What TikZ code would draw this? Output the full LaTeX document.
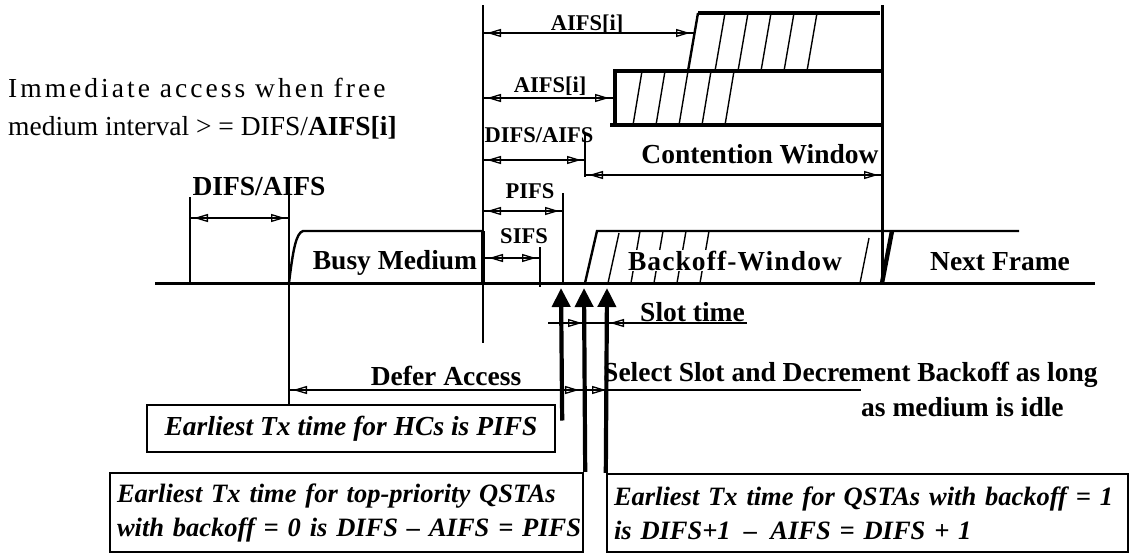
\documentclass[tikz,border=0pt]{standalone}
\usepackage{fontspec}
\setmainfont{Liberation Serif}
\usetikzlibrary{arrows.meta}
\newcommand{\biglbl}{\fontsize{27.5}{32}\selectfont\bfseries}
\newcommand{\smlbl}{\fontsize{22.5}{26}\selectfont\bfseries}
\newcommand{\boxtxt}{\fontsize{26.5}{34}\selectfont\bfseries\itshape}
\newcommand{\hctxt}{\fontsize{27.5}{34}\selectfont\bfseries\itshape}
\newcommand{\plaintxt}{\fontsize{27.5}{31}\selectfont}
\tikzset{
  dimtip/.tip={Triangle[open,length=14pt,width=8pt,line width=1.3pt]},
  thinln/.style={line width=1.4pt},
  medln/.style={line width=2.4pt},
  thickln/.style={line width=4.4pt},
  dimboth/.style={thinln,dimtip-dimtip,shorten <=4pt,shorten >=4pt},
  dimone/.style={thinln,-dimtip},
  uparr/.style={line width=4.2pt,-{Triangle[length=19pt,width=18pt]}},
  biglabel/.style={font=\biglbl,inner sep=0pt},
  smalllabel/.style={font=\smlbl,inner sep=0pt},
  txbox/.style={draw,medln,font=\boxtxt,inner xsep=7pt,inner ysep=0pt},
}
\begin{document}
\begin{tikzpicture}[x=1pt,y=-1pt]
\fill[white] (0,0) rectangle (1131,554);
\useasboundingbox (0,0) rectangle (1131,554);

% ---------- coordinates ----------
\coordinate (bl) at (155,283);  \coordinate (br) at (1095,283);
\coordinate (v190t) at (190,197); \coordinate (v190b) at (190,283);
\coordinate (v289t) at (289,195);
\coordinate (v483t) at (483,5);   \coordinate (v483b) at (483,343);
\coordinate (v540t) at (540,247); \coordinate (v540b) at (540,287);
\coordinate (v563t) at (563,193); \coordinate (v563b) at (563,283);
\coordinate (v585t) at (585,133); \coordinate (v585b) at (585,177);
\coordinate (v882t) at (882,5);   \coordinate (v882b) at (882,283);

% ---------- boxes ----------
\node[txbox,font=\hctxt,minimum width=408pt,minimum height=47pt] (hc) at (351,428.5)
  {Earliest Tx time for HCs is PIFS};
\node[txbox,minimum height=79pt,text width=459pt,align=left] (ql) at (346.5,512.5)
  {\mbox{Earliest Tx time for top-priority QSTAs}\\\mbox{with backoff = 0 is DIFS – AIFS = PIFS}};
\node[txbox,minimum height=78pt,text width=507pt,align=left] (qr) at (867.5,513)
  {\mbox{Earliest Tx time for QSTAs with backoff = 1}\\\mbox{is DIFS+1 \,–\,  AIFS = DIFS + 1}};

% ---------- medium baseline and verticals ----------
\draw[line width=3pt] (bl) -- (br);
\draw[thinln] (v190t) -- (v190b);
\draw[medln] (v289t) -- (v289t |- hc.north);
\draw[thinln] (v483t) -- (v483b);
\draw[thinln] (v540t) -- (v540b);
\draw[thinln] (v563t) -- (v563b);
\draw[thinln] (v585t) -- (v585b);
\draw[line width=3pt] (v882t) -- (v882b);

% ---------- hatched contention boxes ----------
\draw[thickln] (698,13) -- (880,13);
\draw[medln] (698,13) -- (688,71);
\foreach \x in {725,748,771,794,817} \draw[thinln] (\x,13) -- (\x-10,71);
\draw[thickln] (613,71) -- (882,71);
\draw[thickln] (615,71) -- (615,125);
\draw[thickln] (610,125) -- (882,125);
\foreach \x in {642,665,688,711,734} \draw[thinln] (\x,71) -- (\x-9,125);

% ---------- busy medium ----------
\draw[medln] (289,283) .. controls (293,250) and (296,233) .. (303,231) -- (483,231);
\draw[thickln] (483,231) -- (483,283);

% ---------- backoff window / next frame ----------
\draw[medln] (585,283) -- (597,231) -- (1019,231);
\draw[thinln] (608,283) -- (619,233);
\foreach \x in {640,663,686,709} \draw[thinln] (\x,231) -- (\x-9,283);
\draw[thinln] (860,283) -- (869,238);
\draw[thickln] (882,283) -- (892,231);

% ---------- dimension arrows ----------
\coordinate (d1a) at (190,218); \coordinate (d1b) at (289,218);
\draw[thinln] (d1a) -- (d1b); \draw[dimboth] (d1a) -- (d1b);
\coordinate (ai1a) at (483,33); \coordinate (ai1b) at (694,33);
\draw[thinln] (ai1a) -- (ai1b); \draw[dimboth] (ai1a) -- (ai1b);
\coordinate (ai2a) at (483,98); \coordinate (ai2b) at (613,98);
\draw[thinln] (ai2a) -- (ai2b); \draw[dimboth] (ai2a) -- (ai2b);
\coordinate (dfa) at (483,160); \coordinate (dfb) at (585,160);
\draw[thinln] (dfa) -- (dfb); \draw[dimboth] (dfa) -- (dfb);
\coordinate (cwa) at (585,175); \coordinate (cwb) at (882,175);
\draw[thinln] (cwa) -- (cwb); \draw[dimboth] (cwa) -- (cwb);
\coordinate (pfa) at (483,211); \coordinate (pfb) at (563,211);
\draw[thinln] (pfa) -- (pfb); \draw[dimboth] (pfa) -- (pfb);
\coordinate (sfa) at (485,258); \coordinate (sfb) at (540,258);
\draw[thinln] (sfa) -- (sfb); \draw[dimboth] (sfa) -- (sfb);

% slot time
\coordinate (sla) at (548,323); \coordinate (slb) at (747,323);
\draw[thinln] (sla) -- (slb);
\draw[dimone] (sla) -- (582,323);
\draw[dimone] (640,323) -- (610,323);

% defer access / select slot
\coordinate (dea) at (289,390); \coordinate (deb) at (861,390);
\draw[thinln] (dea) -- (deb);
\draw[dimboth] (dea) -- (583,390);
\draw[dimone] (590,390) -- (606,390);

% ---------- up arrows ----------
\coordinate (t1) at (561,288); \coordinate (t2) at (584,288); \coordinate (t3) at (607,288);
\draw[uparr] ([xshift=6pt,yshift=8pt]hc.east) -- (t1);
\draw[uparr] ([xshift=1pt]ql.north east) -- (t2);
\draw[uparr] (qr.north west) -- (t3);

% ---------- labels ----------
\node[anchor=base west,inner sep=0pt,font=\plaintxt] (imm1) at (8,97)
  {\addfontfeature{LetterSpace=11}Immediate access when free};
\node[anchor=base west,inner sep=0pt,font=\plaintxt] (imm2) at (8,135)
  {medium interval > =  DIFS/\textbf{AIFS[i]}};
\node[biglabel,anchor=base] (ldifs) at (259,195) {DIFS/AIFS};
\node[smalllabel,anchor=base] (aifs1) at (587,30) {AIFS[i]};
\node[smalllabel,anchor=base] (aifs2) at (550,92) {AIFS[i]};
\node[smalllabel,anchor=base] (difs2) at (539,142) {DIFS/AIFS};
\node[biglabel,anchor=base] (cw) at (760,163) {Contention Window};
\node[smalllabel,anchor=base] (pifs) at (530,198) {PIFS};
\node[smalllabel,anchor=base] (sifs) at (524,243) {SIFS};
\node[biglabel,anchor=base] (busy) at (395,269) {Busy Medium};
\node[biglabel,anchor=base,fill=white,inner sep=1pt] (bw) at (735,270)
  {\addfontfeature{LetterSpace=4}Backoff-Window};
\node[biglabel,anchor=base] (nf) at (1000,270) {Next Frame};
\node[biglabel,anchor=base west] (slot) at (640,321) {Slot time};
\node[biglabel,anchor=base] (defer) at (446,385) {Defer Access};
\node[biglabel,anchor=base west] (sel) at (603,381) {Select Slot and Decrement Backoff as long};
\node[biglabel,anchor=base west] (idle) at (861,416) {as medium is idle};
\end{tikzpicture}
\end{document}
